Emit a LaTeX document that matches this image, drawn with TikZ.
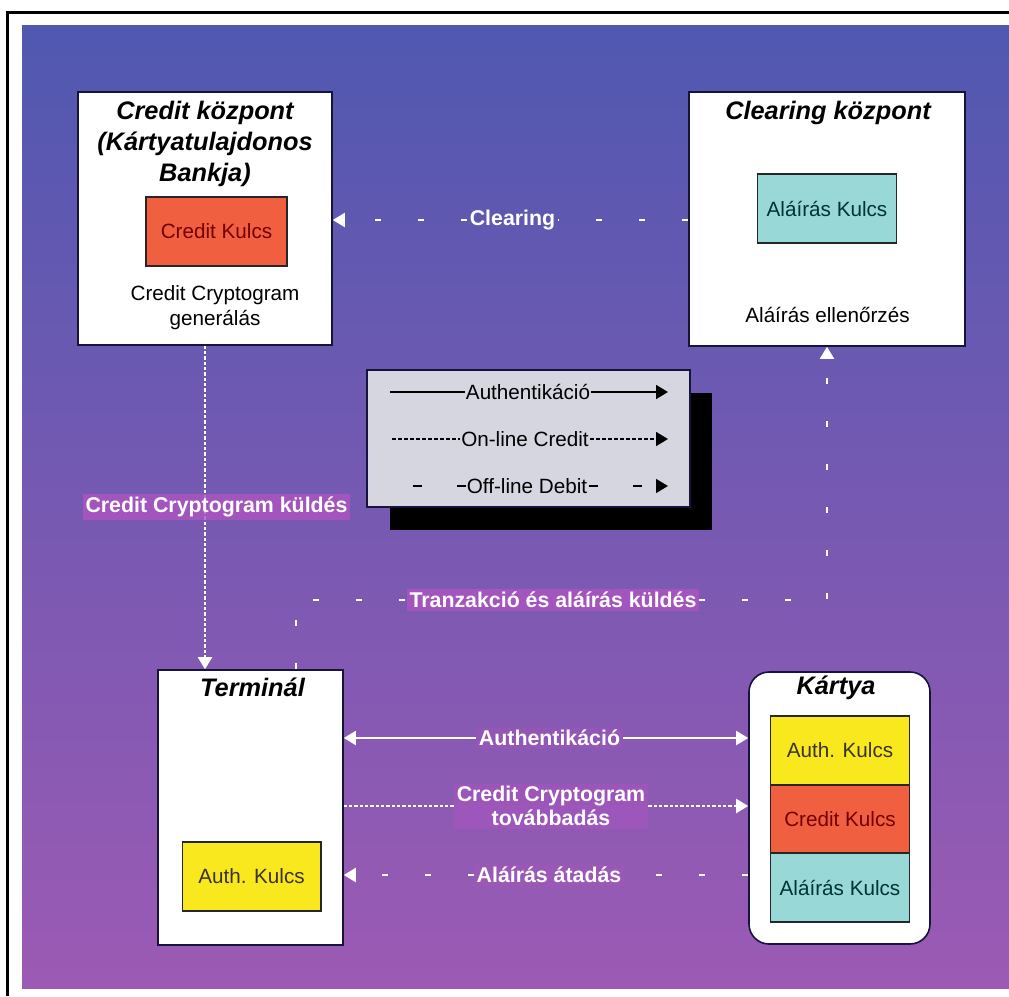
\documentclass[tikz,border=0pt]{standalone}
\usepackage{fontspec}
\setmainfont{Liberation Sans}
\usetikzlibrary{arrows.meta,positioning}

\definecolor{bgtop}{RGB}{80,88,176}
\definecolor{bgbot}{RGB}{156,90,180}
\definecolor{lblbg}{RGB}{172,84,192}
\definecolor{legendgrey}{RGB}{214,214,224}
\definecolor{boxline}{RGB}{20,20,60}
\definecolor{keyred}{RGB}{240,96,64}
\definecolor{keyyellow}{RGB}{250,232,30}
\definecolor{keycyan}{RGB}{152,216,214}

\tikzset{
  box/.style={draw=boxline, line width=1.2pt, fill=white, inner sep=0pt}, % nagy dobozok
  keybox/.style={draw=black!85, line width=1pt, inner sep=0pt,
    minimum width=104pt, minimum height=51.75pt,
    font=\fontsize{15.5}{18.75}\selectfont}, % kulcs dobozok
  title/.style={font=\bfseries\itshape\fontsize{19}{23.25}\selectfont, align=center, inner sep=0pt},
  body/.style={font=\fontsize{15.5}{18.75}\selectfont, align=center, inner sep=0pt},
  flowlbl/.style={text=white, font=\bfseries\fontsize{16}{18}\selectfont, align=center,
    fill=lblbg, fill opacity=0.8, text opacity=1, inner sep=2pt}, % nyil feliratok
  faintlbl/.style={flowlbl, fill opacity=0.3},
  plainlbl/.style={text=white, font=\bfseries\fontsize{16}{18}\selectfont, inner sep=2pt},
  authline/.style={draw=white, line width=1.5pt},
  online/.style={draw=white, line width=1.5pt, dash pattern=on 2.5pt off 1.5pt},
  offline/.style={draw=white, line width=1.5pt, dash pattern=on 4.5pt off 27.75pt},
  wtip/.style={-{Triangle[width=10.5pt,length=9pt]}},
  legline/.style={draw=black, line width=1.2pt},
  leglbl/.style={font=\fontsize{15.5}{18.75}\selectfont, fill=legendgrey, inner sep=1pt}
}

\begin{document}
\begin{tikzpicture}[x=0.75pt,y=-0.75pt]
    \useasboundingbox (0,0) rectangle (1009,996);
    \fill[white] (0,0) rectangle (1009,996);

    % hatter es keret
    \shade[top color=bgtop, bottom color=bgbot] (22,25) rectangle (1009,988);
    \draw[line width=2.25pt] (7,996) -- (7,12) -- (1009,12);

    % Credit kozpont
    \node[box, minimum width=190.5pt, minimum height=189.75pt] (credit) at (205,218.5) {};
    \node[title] (credtitle) at (205,144) {Credit központ\\(Kártyatulajdonos\\Bankja)};
    \node[keybox, fill=keyred, text=red!45!black, minimum width=105.75pt] (credkey) at (216.5,231.5) {Credit Kulcs};
    \node[body] (credgen) at (215,307.5) {Credit Cryptogram\\generálás};

    % Clearing kozpont
    \node[box, minimum width=207pt, minimum height=190.5pt] (clearing) at (827,219) {};
    \node[title] (clrtitle) at (828,113) {Clearing központ};
    \node[keybox, fill=keycyan, text=black!60!teal] (sigkey) at (827,208.5) {Aláírás Kulcs};
    \node[body] (sigcheck) at (827.5,315) {Aláírás ellenőrzés};

    % jelmagyarazat
    \fill[black] (390,393) rectangle (712,530);
    \node[draw=boxline, line width=1pt, fill=legendgrey, minimum width=242.25pt, minimum height=102.75pt] (legend) at (528.5,438.5) {};
    \coordinate (la1) at (390,392);
    \coordinate (lb1) at (668,392);
    \coordinate (la2) at (392,439);
    \coordinate (lb2) at (668,439);
    \coordinate (la3) at (413,486);
    \coordinate (lb3) at (668,486);
    \draw[legline,-{Triangle[width=10.5pt,length=9pt]}] (la1) -- (lb1);
    \draw[legline,dash pattern=on 3pt off 1.5pt,-{Triangle[width=10.5pt,length=9pt]}] (la2) -- (lb2);
    \draw[legline,line width=1pt,dash pattern=on 7pt off 26pt,-{Triangle[width=10.5pt,length=9pt]}] (la3) -- (lb3);
    \node[leglbl] (leg1) at (528,392) {Authentikáció};
    \node[leglbl] (leg2) at (525,439) {On-line Credit};
    \node[leglbl] (leg3) at (527,486) {Off-line Debit};

    % Terminal
    \node[box, minimum width=138.75pt, minimum height=206.25pt] (terminal) at (250.5,807.5) {};
    \node[title] (termtitle) at (252.5,687) {Terminál};
    \node[keybox, fill=keyyellow, text=black!80!olive] (termkey) at (251.5,876.5) {Auth. Kulcs};

    % Kartya
    \node[box, rounded corners=15pt, minimum width=135.75pt, minimum height=204pt] (card) at (839.5,808) {};
    \node[title] (cardtitle) at (836,688) {Kártya};
    \node[keybox, fill=keyyellow, text=black!80!olive] (cardauth) at (840,750.5) {Auth. Kulcs};
    \node[keybox, fill=keyred, text=red!45!black, minimum height=51pt] (cardcred) at (840,819) {Credit Kulcs};
    \node[keybox, fill=keycyan, text=black!60!teal] (cardsig) at (840,887.5) {Aláírás Kulcs};

    % Clearing nyil
    \node[plainlbl] (clrlbl) at (512.5,220) {Clearing};
    \draw[offline] (clearing.west |- clrlbl) -- (clrlbl.east);
    \draw[offline,wtip] (clrlbl.west) -- (credit.east |- clrlbl);

    % Credit Cryptogram kuldes
    \draw[online,wtip] (credit.south) -- (credit.south |- terminal.north);
    \node[flowlbl] (sendlbl) at (216.5,507) {Credit Cryptogram küldés};

    % Tranzakcio es alairas kuldes
    \node[flowlbl] (txlbl) at (553,600) {Tranzakció és aláírás küldés};
    \draw[offline] ([xshift=34pt]terminal.north) |- (txlbl.west);
    \draw[offline,wtip] (txlbl.east) -| (clearing.south);

    % Terminal -- Kartya
    \node[faintlbl] (authlbl) at (549.5,738) {Authentikáció};
    \draw[authline,wtip] (authlbl.west) -- (terminal.east |- authlbl);
    \draw[authline,wtip] (authlbl.east) -- (card.west |- authlbl);

    \node[flowlbl, fill opacity=0.5] (fwdlbl) at (551,806) {Credit Cryptogram\\továbbadás};
    \draw[online] (terminal.east |- fwdlbl) -- (fwdlbl.west);
    \draw[online,wtip] (fwdlbl.east) -- (card.west |- fwdlbl);

    \node[faintlbl] (siglbl) at (549,875) {Aláírás átadás};
    \draw[offline] (card.west |- siglbl) -- (siglbl.east);
    \draw[offline,wtip] (siglbl.west) -- (terminal.east |- siglbl);
\end{tikzpicture}
\end{document}
